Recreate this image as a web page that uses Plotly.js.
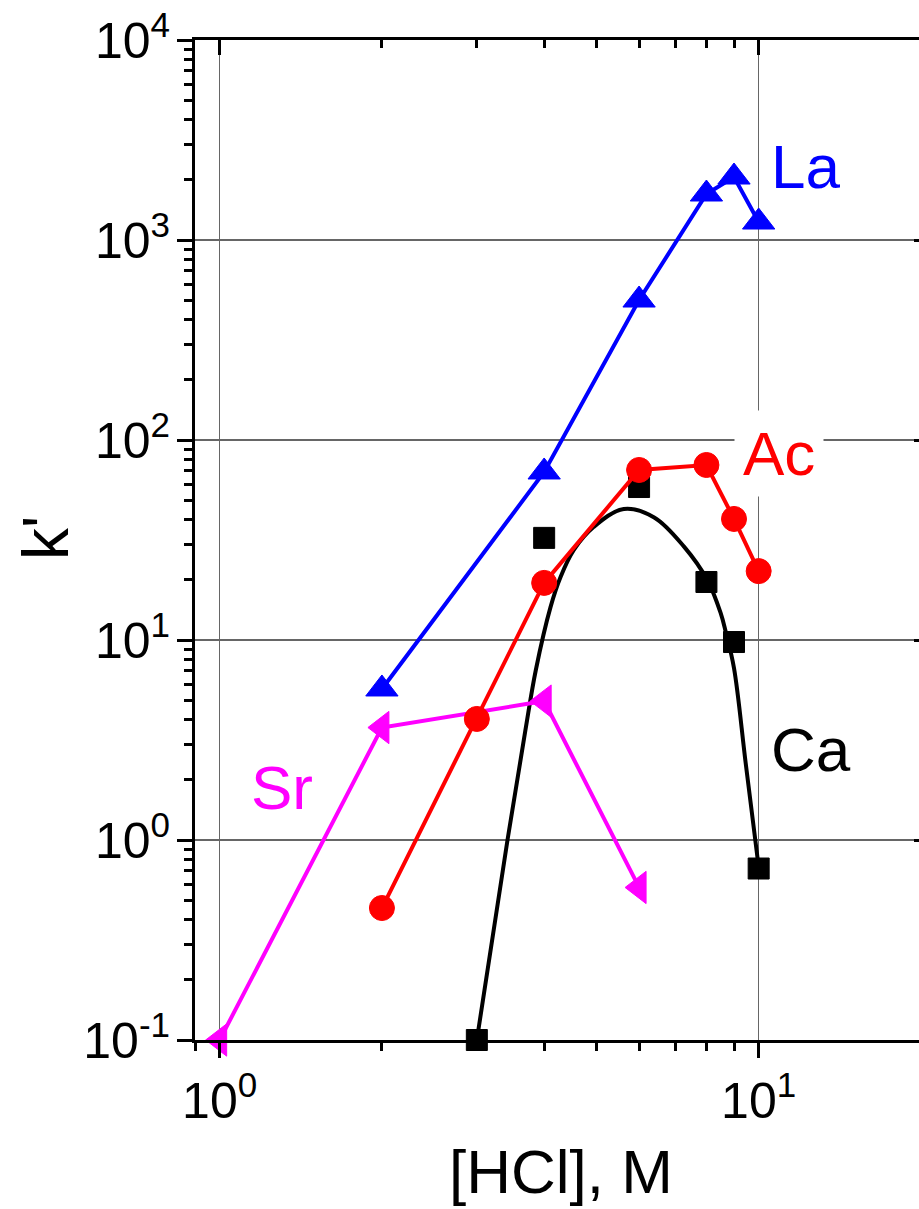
<!DOCTYPE html>
<html>
<head>
<meta charset="utf-8">
<script src="https://cdn.plot.ly/plotly-3.0.1.min.js"></script>
<style>
html,body{margin:0;padding:0;overflow:hidden;background:#fff;}
#chart{width:935px;height:1209px;}
</style>
</head>
<body>
<div id="chart"></div>
<script>
// ---- data ----
const laX = [2, 4, 6, 8, 9, 10];
const laY = [5.69, 69.2, 501, 1698, 2065, 1230];

const acX = [2, 3, 4, 6, 8, 9, 10];
const acY = [0.457, 4.03, 19.3, 70.8, 75, 40.3, 22.1];

const caX = [3, 4, 6, 8, 9, 10];
const caY = [0.1, 32.4, 58.2, 19.5, 9.77, 0.72];

// fitted curve for Ca
const caFitX = [3.0, 3.42, 3.69, 3.86, 4.11, 4.29, 4.54, 4.94, 5.62, 6.40, 7.27, 8.03, 8.50, 8.69, 9.0, 9.46, 10.0];
const caFitY = [0.1, 1.0, 3.51, 7.08, 14.6, 20.65, 28.2, 36.7, 45.2, 41.0, 29.3, 19.95, 13.65, 10.96, 7.24, 2.43, 0.733];

const srX = [1, 2, 4, 6];
const srY = [0.1, 3.65, 4.95, 0.579];

const xTickVals = [1, 10];
const xTickText = ['10<sup>0</sup>', '10<sup>1</sup>'];
const yTickVals = [0.1, 1, 10, 100, 1000, 10000];
const yTickText = ['10<sup>-1</sup>', '10<sup>0</sup>', '10<sup>1</sup>', '10<sup>2</sup>', '10<sup>3</sup>', '10<sup>4</sup>'];

// minor tick positions
const xMinor = [0.9, 2, 3, 4, 5, 6, 7, 8, 9, 20];
const yMinor = [];
[0.1, 1, 10, 100, 1000].forEach(d => { for (let k = 2; k <= 9; k++) yMinor.push(+(d * k).toPrecision(3)); });

const FONT = 'Liberation Sans, Arial, Helvetica, sans-serif';
const x0 = Math.log10(0.9);
const xRange = [x0, x0 + 734 / 539];
const yRange = [-1, 4];

const traces = [
  // invisible helper so the mirrored top/right axes get drawn
  {x: laX, y: laY, xaxis: 'x2', yaxis: 'y2', mode: 'markers', marker: {opacity: 0, size: 1}, hoverinfo: 'skip'},
  {x: caFitX, y: caFitY, mode: 'lines', line: {color: '#000000', width: 4, shape: 'spline', smoothing: 1}, cliponaxis: false, hoverinfo: 'skip'},
  {x: caX, y: caY, mode: 'markers', marker: {symbol: 'square', size: 21, color: '#000000', line: {color: '#000000', width: 1}}, cliponaxis: false},
  {x: srX, y: srY, mode: 'lines+markers', line: {color: '#ff00ff', width: 4}, marker: {symbol: 'triangle-left', size: 28, color: '#ff00ff', line: {color: '#ff00ff', width: 1}}, cliponaxis: false},
  {x: acX, y: acY, mode: 'lines+markers', line: {color: '#ff0000', width: 4}, marker: {symbol: 'circle', size: 25, color: '#ff0000', line: {color: '#ff0000', width: 1}}, cliponaxis: false},
  {x: laX, y: laY, mode: 'lines+markers', line: {color: '#0000ff', width: 4}, marker: {symbol: 'triangle-up', size: 28, color: '#0000ff', line: {color: '#0000ff', width: 1}}, cliponaxis: false}
];

const axisCommon = {
  type: 'log', showline: true, linecolor: '#000', linewidth: 3, zeroline: false,
  tickcolor: '#000', tickwidth: 3, ticklen: 15, tickmode: 'array'
};

const layout = {
  width: 935, height: 1209,
  margin: {l: 195, r: 6, t: 40, b: 169},
  paper_bgcolor: '#fff', plot_bgcolor: '#fff',
  showlegend: false,
  font: {family: FONT, color: '#000'},
  xaxis: Object.assign({}, axisCommon, {
    range: xRange, ticks: 'outside', tickvals: xTickVals, ticktext: xTickText,
    tickfont: {family: FONT, size: 50, color: '#000'},
    showgrid: true, gridcolor: '#666666', gridwidth: 1.2,
    minor: {tickmode: 'array', tickvals: xMinor, ticks: 'outside', ticklen: 8, tickwidth: 3, tickcolor: '#000', showgrid: false},
    mirror: false
  }),
  yaxis: Object.assign({}, axisCommon, {
    range: yRange, ticks: 'outside', tickvals: yTickVals, ticktext: yTickText,
    tickfont: {family: FONT, size: 50, color: '#000'},
    ticklabelstandoff: -3,
    showgrid: true, gridcolor: '#666666', gridwidth: 1.2,
    minor: {tickmode: 'array', tickvals: yMinor, ticks: 'outside', ticklen: 8, tickwidth: 3, tickcolor: '#000', showgrid: false},
    mirror: false
  }),
  xaxis2: Object.assign({}, axisCommon, {
    range: xRange, overlaying: 'x', side: 'top', anchor: 'y2', ticks: 'inside', tickvals: xTickVals,
    showticklabels: false, showgrid: false,
    minor: {tickmode: 'array', tickvals: xMinor, ticks: 'inside', ticklen: 8, tickwidth: 3, tickcolor: '#000', showgrid: false}
  }),
  yaxis2: Object.assign({}, axisCommon, {
    range: yRange, overlaying: 'y', side: 'right', anchor: 'x2', ticks: 'inside', tickvals: yTickVals,
    showticklabels: false, showgrid: false,
    minor: {tickmode: 'array', tickvals: yMinor, ticks: 'inside', ticklen: 8, tickwidth: 3, tickcolor: '#000', showgrid: false}
  }),
  annotations: [
    {text: '[HCl], M', xref: 'paper', yref: 'paper', x: 0.4986, y: -0.131, xanchor: 'center', yanchor: 'middle', showarrow: false, font: {family: FONT, size: 62, color: '#000'}},
    {text: "k'", xref: 'paper', yref: 'paper', x: -0.203, y: 0.502, xanchor: 'center', yanchor: 'middle', textangle: -90, showarrow: false, font: {family: FONT, size: 64, color: '#000'}},
    {text: 'La', x: Math.log10(12.2), y: Math.log10(2331), xanchor: 'center', yanchor: 'middle', showarrow: false, font: {family: FONT, size: 62, color: '#0000ff'}},
    {text: 'Ac', x: Math.log10(10.92), y: Math.log10(86.1), xanchor: 'center', yanchor: 'middle', showarrow: false, bgcolor: '#ffffff', borderpad: 8, font: {family: FONT, size: 62, color: '#ff0000'}},
    {text: 'Ca', x: Math.log10(12.51), y: Math.log10(2.85), xanchor: 'center', yanchor: 'middle', showarrow: false, font: {family: FONT, size: 62, color: '#000000'}},
    {text: 'Sr', x: Math.log10(1.303), y: Math.log10(1.82), xanchor: 'center', yanchor: 'middle', showarrow: false, font: {family: FONT, size: 62, color: '#ff00ff'}}
  ]
};

Plotly.newPlot('chart', traces, layout, {staticPlot: true, displayModeBar: false});
</script>
</body>
</html>
